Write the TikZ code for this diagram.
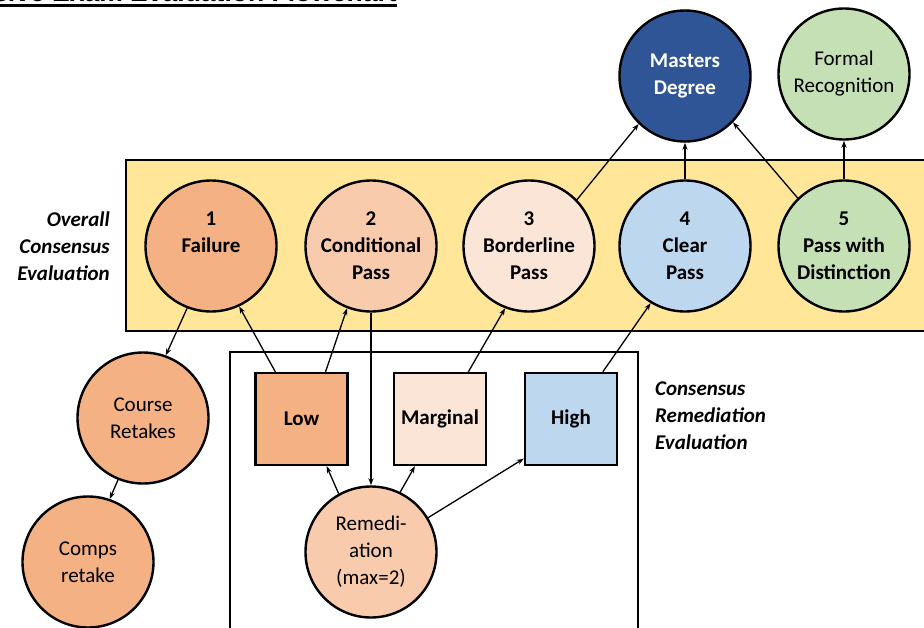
\documentclass[tikz,border=0pt]{standalone}
\usepackage{fontspec}
\setmainfont{Carlito}
\newfontfamily\titlefont{Liberation Sans}
\usetikzlibrary{arrows.meta}
\definecolor{band}{HTML}{FFE699}
\definecolor{cA}{HTML}{F4B183}
\definecolor{cB}{HTML}{F8CBAD}
\definecolor{cC}{HTML}{FBE5D6}
\definecolor{cD}{HTML}{BDD7EE}
\definecolor{cE}{HTML}{C5E0B4}
\definecolor{cM}{HTML}{2F5597}
\tikzset{
  circ/.style={circle,draw=black,line width=2.4pt,minimum size=131pt,inner sep=0pt,align=center,font=\fontsize{21}{27}\selectfont},
  bcirc/.style={circ,font=\fontsize{21}{27}\selectfont\bfseries},
  sq/.style={rectangle,draw=black,line width=2.4pt,minimum size=92pt,inner sep=0pt,align=center,font=\fontsize{21}{27}\selectfont\bfseries},
  lbl/.style={font=\fontsize{21}{27}\selectfont\bfseries\itshape,inner sep=0pt},
  arr/.style={-{Stealth[length=7pt,width=5pt]},line width=1.3pt},
  ln/.style={line width=1.3pt}
}
\begin{document}
\begin{tikzpicture}[x=1pt,y=-1pt]
\useasboundingbox (0,0) rectangle (924,627);
\clip (0,0) rectangle (924,627);
% title
\node[anchor=base east,inner sep=0pt,font=\titlefont\fontsize{26.5}{30}\selectfont\bfseries\upshape] (title) at (397,1) {Comprehensive Exam Evaluation Flowchart};
\draw[line width=2.5pt] ([yshift=-4.3pt]title.base west) -- ([yshift=-4.3pt]title.base east);
% band and box
\draw[fill=band,line width=2.4pt] (126,160) rectangle (940,331);
\draw[line width=2pt] (230,352) rectangle (638,650);
% labels
\node[lbl,anchor=east,align=right] (lblA) at (110,246) {Overall\\Consensus\\Evaluation};
\node[lbl,anchor=west,align=left] (lblB) at (655,416) {Consensus\\Remediation\\Evaluation};
% band circles
\node[bcirc,fill=cA] (fail) at (211,246) {1\\Failure\\\mbox{}};
\node[bcirc,fill=cB] (cond) at (371,246) {2\\Conditional\\Pass};
\node[bcirc,fill=cC] (bord) at (529,246) {3\\Borderline\\Pass};
\node[bcirc,fill=cD] (clear) at (685,246) {4\\Clear\\Pass};
\node[bcirc,fill=cE] (dist) at (844,246) {5\\Pass with\\Distinction};
% top circles
\node[bcirc,fill=cM,text=white] (mast) at (685,76) {Masters\\Degree};
\node[circ,fill=cE] (formal) at (844,74) {Formal\\Recognition};
% left circles
\node[circ,fill=cA] (course) at (143,418) {Course\\Retakes};
\node[circ,fill=cA] (comps) at (88,562) {Comps\\retake};
% squares
\node[sq,fill=cA] (low) at (301.5,419) {Low};
\node[sq,fill=cC] (marg) at (440,419) {Marginal};
\node[sq,fill=cD] (high) at (571,419) {High};
% remediation
\node[circ,fill=cB] (rem) at (371,552) {Remedi-\\ation\\(max=2)};
% connectors
\draw[arr] (fail.249) -- (course.70);
\draw[arr] (course.248) -- (comps.71);
\draw[arr] (low.119) -- (fail.295);
\draw[arr] (low.63) -- (cond.249);
\draw[arr] (cond.south) -- (rem.north);
\draw[arr] (rem.119) -- (low.298);
\draw[arr] (rem.64) -- (marg.242);
\draw[arr] (rem.31) -- (high.220);
\draw[arr] (marg.59) -- (bord.249);
\draw[arr] (high.56) -- (clear.239);
\draw[arr] (bord.44) -- (mast.226);
\draw[arr] (clear.north) -- (mast.south);
\draw[arr] (dist.134) -- (mast.316);
\draw[arr] (dist.north) -- (formal.south);
\end{tikzpicture}
\end{document}
